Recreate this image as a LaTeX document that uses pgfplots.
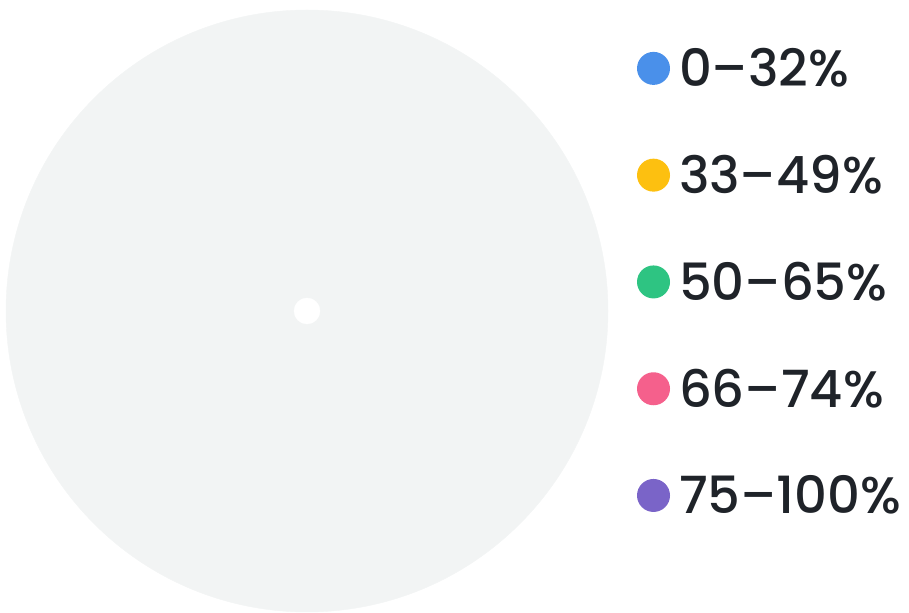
\documentclass[border=0pt]{standalone}
\usepackage{pgfplots}
\pgfplotsset{compat=1.18}
\usepackage{fontspec}
\setmainfont{Poppins Medium}
\definecolor{pieGrey}{HTML}{F2F4F4}
\definecolor{cBlue}{HTML}{4A90EA}
\definecolor{cYellow}{HTML}{FDC010}
\definecolor{cGreen}{HTML}{2EC482}
\definecolor{cPink}{HTML}{F5608C}
\definecolor{cPurple}{HTML}{7A64C8}
\definecolor{txt}{HTML}{1F2329}
\begin{document}
\begin{tikzpicture}
\begin{axis}[
  width=909bp, height=613bp, scale only axis,
  xmin=0, xmax=909, ymin=0, ymax=613,
  hide axis, clip=false,
  legend style={draw=none, fill=none, inner sep=0pt, outer sep=0pt,
    at={(axis cs:637,613-48.5)}, anchor=north west,
    font=\fontsize{51.5}{60}\selectfont, text=txt,
    row sep=67bp, /tikz/every odd column/.append style={column sep=9bp},
    nodes={inner sep=0pt, anchor=west}},
  legend cell align=left,
  legend image code/.code={\fill (16.5bp,0bp) circle (16.5bp);},
]
\path (axis cs:0,0) rectangle (axis cs:909,613);
% empty pie: single grey disc with white centre point
\addplot[only marks, mark=*, mark size=301bp, color=pieGrey, forget plot] coordinates {(307,302)};
\addplot[only marks, mark=*, mark size=13bp, color=white, forget plot] coordinates {(307,302)};
\addlegendimage{fill=cBlue, draw=none}
\addlegendentry{0–32\%}
\addlegendimage{fill=cYellow, draw=none}
\addlegendentry{33–49\%}
\addlegendimage{fill=cGreen, draw=none}
\addlegendentry{50–65\%}
\addlegendimage{fill=cPink, draw=none}
\addlegendentry{66–74\%}
\addlegendimage{fill=cPurple, draw=none}
\addlegendentry{75–100\%}
\end{axis}
\end{tikzpicture}
\end{document}
